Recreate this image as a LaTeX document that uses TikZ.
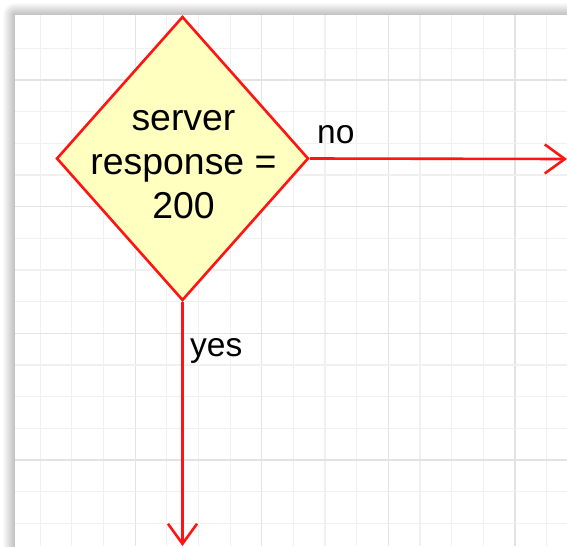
\documentclass[tikz,border=0pt]{standalone}
\usepackage{fontspec}
\setmainfont{Liberation Sans}
\usetikzlibrary{shapes.geometric,arrows.meta}
\definecolor{flowred}{HTML}{FF1414}
\definecolor{decfill}{HTML}{FFFFC0}
\definecolor{gridminor}{HTML}{F0F0F0}
\definecolor{gridmajor}{HTML}{E3E3E3}
\tikzset{
  decision/.style={shape=diamond, draw=flowred, fill=decfill, line width=2.6pt,
    minimum width=252pt, minimum height=284pt, inner sep=0pt, aspect=0.887},
  dectext/.style={align=center, inner sep=0pt, text=black,
    font=\fontsize{37.4}{44}\selectfont},
  edgelabel/.style={inner sep=0pt, text=black, font=\fontsize{33.5}{40}\selectfont},
  flow/.style={draw=flowred, line width=2.6pt,
    -{Straight Barb[length=20pt,width=29pt,line width=2.6pt]}},
}
\begin{document}
\begin{tikzpicture}[x=1pt,y=-1pt]
  \useasboundingbox (0,0) rectangle (567,546);
  \clip (0,0) rectangle (567,546);
  % page background and soft shadow along the top and left canvas edges
  \fill[white] (0,0) rectangle (567,546);
  \foreach \i in {1,...,12}
    \fill[black, opacity=0.018, rounded corners=\i pt] (15-\i,15-\i) rectangle (620,620);
  \fill[white] (15,15) rectangle (620,620);
  % grid: minor lines every 31.65 units, every fourth one darker
  \foreach \k in {0,...,16} {
    \pgfmathsetmacro{\gx}{40.2+31.65*\k}
    \pgfmathtruncatemacro{\m}{mod(\k+1,4)}
    \ifnum\m=0
      \draw[gridmajor, line width=1.2pt] (\gx,15) -- (\gx,546);
    \else
      \draw[gridminor, line width=1.2pt] (\gx,15) -- (\gx,546);
    \fi
  }
  \foreach \k in {0,...,15} {
    \pgfmathsetmacro{\gy}{48.3+31.67*\k}
    \pgfmathtruncatemacro{\m}{mod(\k+3,4)}
    \ifnum\m=0
      \draw[gridmajor, line width=1.2pt] (15,\gy) -- (567,\gy);
    \else
      \draw[gridminor, line width=1.2pt] (15,\gy) -- (567,\gy);
    \fi
  }
  % decision node
  \node[decision] (dec) at (182.5,158.5) {};
  \node[dectext, anchor=base] (dectxt) at (183.5,218) {server\\response =\\200};
  % outgoing branches
  \coordinate (noend) at (567,159);
  \coordinate (yesend) at (182.5,546);
  \draw[flow] (dec.east) -- (noend);
  \draw[flow] (dec.south) -- (yesend);
  \node[edgelabel, anchor=base west] (nolbl) at (317,143.3) {no};
  \node[edgelabel, anchor=base west] (yeslbl) at (190,356.7) {yes};
\end{tikzpicture}
\end{document}
